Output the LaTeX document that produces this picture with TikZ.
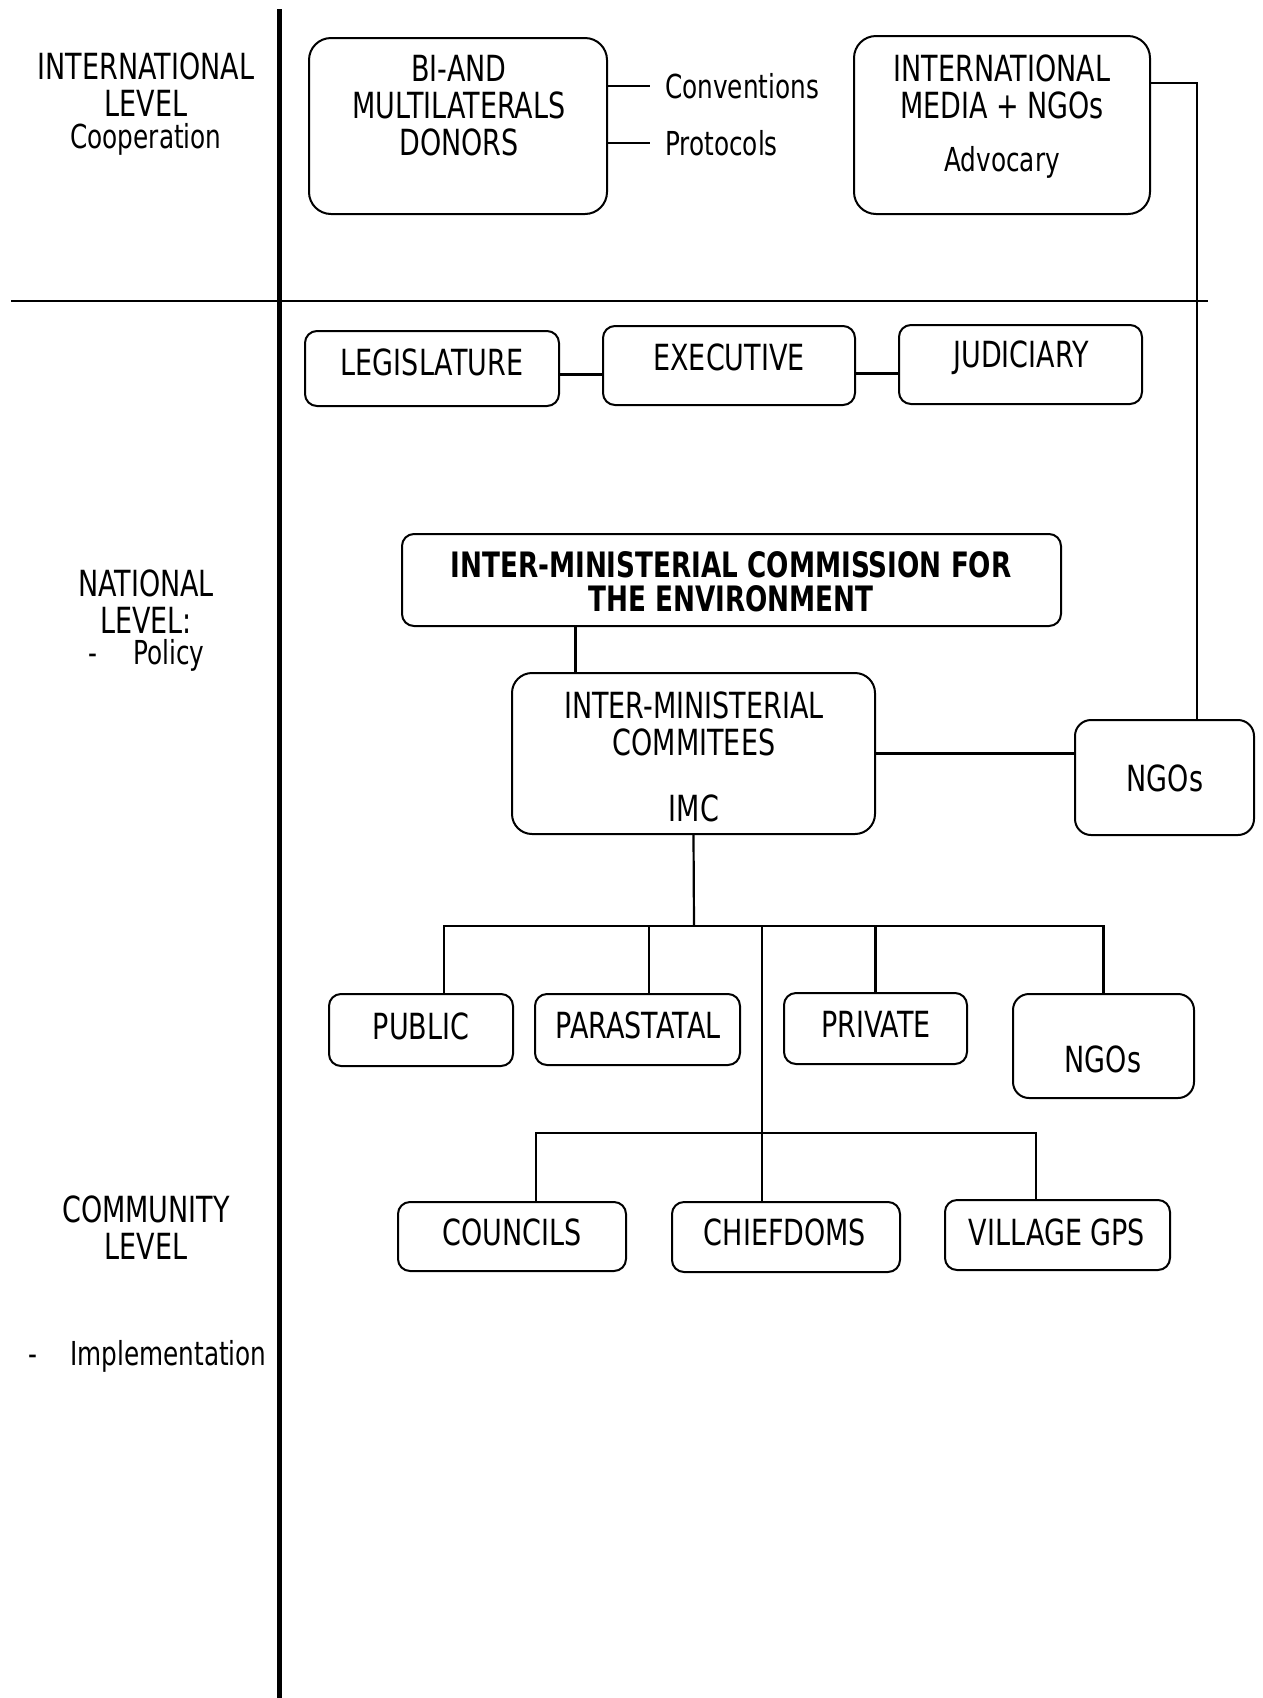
\documentclass[tikz,border=0pt]{standalone}
\usepackage{fontspec}
\setmainfont{DejaVu Sans}[FakeStretch=0.75]

\begin{document}
\begin{tikzpicture}[x=1pt, y=-1pt,
  box/.style={draw, line width=2pt, rounded corners=#1},
  box/.default=12pt,
  lbl/.style={font=\fontsize{36}{37}\selectfont, align=center, inner sep=0pt},
  lblsm/.style={font=\fontsize{33}{37}\selectfont, inner sep=0pt},
  lblbf/.style={font=\fontsize{35}{34}\selectfont\bfseries, align=center, inner sep=0pt},
  link/.style={line width=2.2pt}
]
  \useasboundingbox (0,0) rectangle (1262,1698);
  % Level dividers
  \draw[line width=5pt] (279.5,9) -- (279.5,1698);
  \draw[line width=1.5pt] (11,301) -- (1208,301);
  % Level labels
  \node[lbl] (t-intl) at (146,84.5) {INTERNATIONAL\\LEVEL};
  \node[lblsm] (t-coop) at (146,139) {Cooperation};
  \node[lbl] (t-nat) at (146,601.5) {NATIONAL\\LEVEL:};
  \node[lblsm, anchor=west] (t-policy) at (88,655) {-\hspace{36pt}Policy};
  \node[lbl] (t-comm) at (146,1227.5) {COMMUNITY\\LEVEL};
  \node[lblsm, anchor=west] (t-impl) at (28,1356) {-\hspace{33pt}Implementation};
  % International level
  \node[box=22pt, minimum width=298pt, minimum height=176pt] (donors) at (458,126) {};
  \node[lbl] (t-donors) at (459,106) {BI-AND\\MULTILATERALS\\DONORS};
  \node[lblsm, anchor=west] (t-conv) at (665,86) {Conventions};
  \node[lblsm, anchor=west] (t-prot) at (665,143) {Protocols};
  \draw[link] (donors.east |- t-conv.west) -- ([xshift=-15pt]t-conv.west);
  \draw[link] (donors.east |- t-prot.west) -- ([xshift=-15pt]t-prot.west);
  \node[box=22pt, minimum width=296pt, minimum height=178pt] (media) at (1002,125) {};
  \node[lbl] (t-media) at (1002,86.5) {INTERNATIONAL\\MEDIA + NGOs};
  \node[lblsm] (t-adv) at (1002,162) {Advocary};
  % Branches of government
  \node[box, minimum width=254pt, minimum height=75pt] (legis) at (432,368.5) {};
  \node[lbl] (t-legis) at (432,362) {LEGISLATURE};
  \node[box, minimum width=252pt, minimum height=79pt] (exec) at (729,365.5) {};
  \node[lbl] (t-exec) at (729,357) {EXECUTIVE};
  \node[box, minimum width=243pt, minimum height=79pt] (judic) at (1020.5,364.5) {};
  \node[lbl] (t-judic) at (1021,358) {JUDICIARY};
  \draw[link] ([yshift=-6pt]legis.east) -- ([yshift=-6pt]legis.east -| exec.west);
  \draw[link] ([yshift=-8pt]exec.east) -- ([yshift=-8pt]exec.east -| judic.west);
  % Commission and committees
  \node[box, minimum width=659pt, minimum height=92pt] (imce) at (731.5,580) {};
  \node[lblbf] (t-imce) at (731,581.5) {INTER-MINISTERIAL COMMISSION FOR\\THE ENVIRONMENT};
  \node[box=20pt, minimum width=363pt, minimum height=161pt] (imc) at (693.5,753.5) {};
  \node[lbl] (t-imc) at (694,724) {INTER-MINISTERIAL\\COMMITEES};
  \node[lbl] (t-imcab) at (694,808) {IMC};
  \node[box=16pt, minimum width=179pt, minimum height=115pt] (ngoa) at (1164.5,777.5) {};
  \node[lbl] (t-ngoa) at (1165,778) {NGOs};
  \draw[link] ([xshift=-156pt]imce.south) -- ([xshift=-156pt]imce.south |- imc.north);
  \draw[link] (imc.east) -- (imc.east -| ngoa.west);
  \draw[link] ([yshift=42pt]media.east) -| ([xshift=32.5pt]ngoa.north);
  % Sectors
  \node[box, minimum width=184pt, minimum height=72pt] (public) at (421,1030) {};
  \node[lbl] (t-public) at (421,1026) {PUBLIC};
  \node[box, minimum width=205pt, minimum height=71pt] (para) at (637.5,1029.5) {};
  \node[lbl] (t-para) at (638,1025) {PARASTATAL};
  \node[box, minimum width=183pt, minimum height=71pt] (priv) at (875.5,1028.5) {};
  \node[lbl] (t-priv) at (876,1024) {PRIVATE};
  \node[box=16pt, minimum width=181pt, minimum height=104pt] (ngob) at (1103.5,1046) {};
  \node[lbl] (t-ngob) at (1103,1059) {NGOs};
  \coordinate (bus) at (694,926);
  \draw[link] (imc.south) -- (bus);
  \draw[link] ([xshift=23pt]public.north) |- (bus) -| (ngob.north);
  \draw[link] ([xshift=11.5pt]para.north) -- ([xshift=11.5pt]para.north |- bus);
  \draw[link] (priv.north) -- (priv.north |- bus);
  % Community level
  \node[box, minimum width=228pt, minimum height=69pt] (councils) at (512,1236.5) {};
  \node[lbl] (t-counc) at (512,1232) {COUNCILS};
  \node[box, minimum width=228pt, minimum height=70pt] (chief) at (786,1237) {};
  \node[lbl] (t-chief) at (785,1232) {CHIEFDOMS};
  \node[box, minimum width=225pt, minimum height=70pt] (village) at (1057.5,1235) {};
  \node[lbl] (t-vill) at (1057,1232) {VILLAGE GPS};
  \coordinate (bus2) at (762,1133);
  \draw[link] ([xshift=-24pt]chief.north) -- ([xshift=-24pt]chief.north |- bus);
  \draw[link] ([xshift=24pt]councils.north) |- (bus2) -| ([xshift=-21.5pt]village.north);
\end{tikzpicture}
\end{document}
